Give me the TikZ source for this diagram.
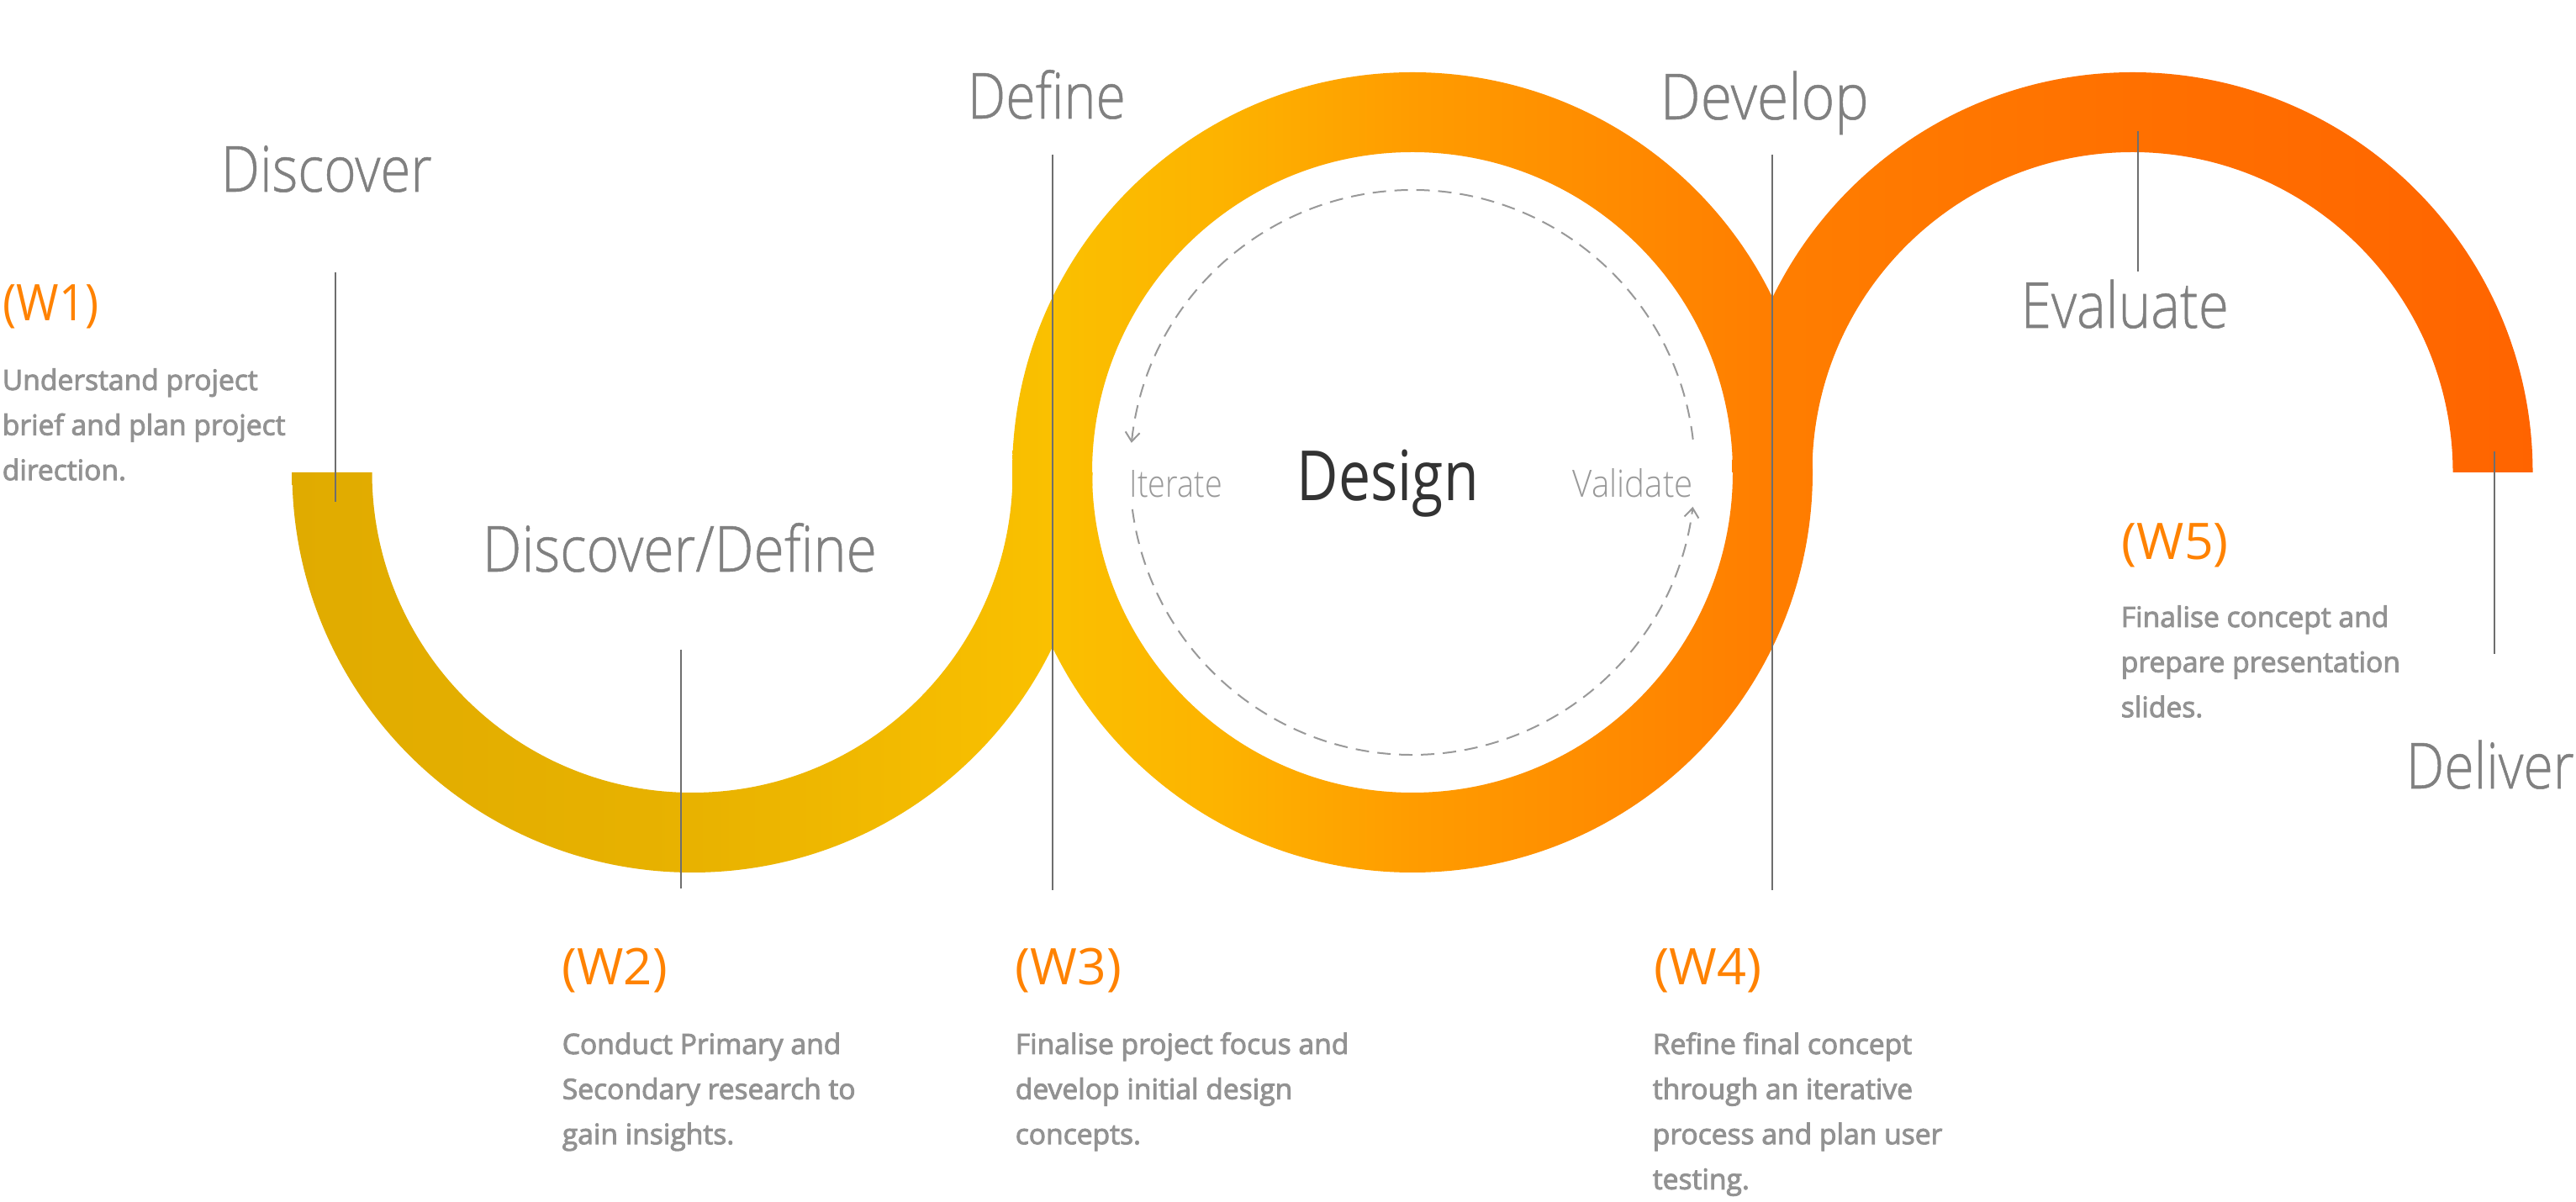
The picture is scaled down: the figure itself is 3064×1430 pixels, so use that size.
\documentclass[tikz,border=0pt]{standalone}
\usepackage{fontspec}
\usepackage{graphicx}
\usetikzlibrary{arrows.meta}
\IfFontExistsTF{Open Sans Light}{%
  \newfontfamily\lightfont{Open Sans Light}%
  \newfontfamily\phasefont{Open Sans Light}[FakeBold=0.7]}{%
  \newfontfamily\lightfont{Open Sans}%
  \newfontfamily\phasefont{Open Sans}}
\IfFontExistsTF{Open Sans SemiBold}{\newfontfamily\semifont{Open Sans SemiBold}}{\newfontfamily\semifont{Open Sans}[FakeBold=2.8]}
\newfontfamily\regfont{Open Sans}
\newdimen\pxunit \pxunit=0.25pt
\newcommand\fitpx[2]{\resizebox{#1\pxunit}{\height}{#2}}
\definecolor{g0}{HTML}{E0AB00}
\definecolor{g1}{HTML}{E8B200}
\definecolor{g2}{HTML}{FAC000}
\definecolor{g3}{HTML}{FDB300}
\definecolor{g4}{HTML}{FF9C00}
\definecolor{g5}{HTML}{FF7E00}
\definecolor{g6}{HTML}{FF7000}
\definecolor{g7}{HTML}{FF6400}
\definecolor{leadgray}{HTML}{6E6E6E}
\definecolor{labgray}{HTML}{808080}
\definecolor{bodygray}{HTML}{929292}
\definecolor{weekorange}{HTML}{FF8200}
\definecolor{loopgray}{HTML}{999999}
\definecolor{designdark}{HTML}{333333}
\pgfdeclarehorizontalshading{wave}{100bp}{color(0bp)=(g0); color(25bp)=(g0); color(33.96bp)=(g1); color(41.98bp)=(g2); color(45.71bp)=(g3); color(50bp)=(g4); color(57.84bp)=(g5); color(66.04bp)=(g6); color(75bp)=(g7); color(100bp)=(g7)}
\tikzset{
  leader/.style={draw=leadgray, line width=0.5pt},
  phase/.style={inner sep=0pt, anchor=base west, text=labgray, font=\phasefont\fontsize{18.9}{20}\selectfont},
  week/.style={inner sep=0pt, anchor=base west, text=weekorange, font=\regfont\fontsize{15}{16}\selectfont},
  body/.style={inner sep=0pt, anchor=base west, text=bodygray, font=\semifont\fontsize{8.4}{13.4}\selectfont},
  loopword/.style={inner sep=0pt, anchor=base west, text=loopgray, font=\lightfont\fontsize{11.2}{12}\selectfont},
  loopline/.style={draw=loopgray, line width=0.5pt, dash pattern=on 4pt off 2.5pt, -{Straight Barb[length=2.75pt,width=4.25pt]}},
}
\begin{document}
\begin{tikzpicture}[x=0.25pt, y=-0.25pt]
\useasboundingbox (0,0) rectangle (3064,1430);
\fill[white] (0,0) rectangle (3064,1430);
% centres
\coordinate (c1) at (823.5,562);
\coordinate (c2) at (1680,562);
\coordinate (c3) at (2536.5,562);
% band pieces
\begin{scope}
  \clip (1299.5,562) arc[start angle=0, end angle=180, radius=476] -- (442.5,562) arc[start angle=180, end angle=0, radius=381] -- cycle;
  \shade[shading=wave] (340,0) rectangle (3020,1430);
\end{scope}
\begin{scope}[even odd rule]
  \clip (c2) circle[radius=476] (c2) circle[radius=381];
  \shade[shading=wave] (340,0) rectangle (3020,1430);
\end{scope}
\begin{scope}
  \clip (2060.5,562) arc[start angle=180, end angle=360, radius=476] -- (2917.5,562) arc[start angle=0, end angle=-180, radius=381] -- cycle;
  \shade[shading=wave] (340,0) rectangle (3020,1430);
\end{scope}
% dashed loop
\draw[loopline] (c2) ++(-6.7:336) arc[start angle=-6.7, end angle=-174, radius=336];
\draw[loopline] (c2) ++(172.5:336) arc[start angle=172.5, end angle=7, radius=336];
% leader lines
\coordinate (l1a) at (399,324);  \coordinate (l1b) at (399,597);
\coordinate (l2a) at (810,773);  \coordinate (l2b) at (810,1057);
\coordinate (l3a) at (1252,184); \coordinate (l3b) at (1252,1059);
\coordinate (l4a) at (2108,184); \coordinate (l4b) at (2108,1059);
\coordinate (l5a) at (2543,156); \coordinate (l5b) at (2543,323);
\coordinate (l6a) at (2967,537); \coordinate (l6b) at (2967,778);
\draw[leader] (l1a) -- (l1b);
\draw[leader] (l2a) -- (l2b);
\draw[leader] (l3a) -- (l3b);
\draw[leader] (l4a) -- (l4b);
\draw[leader] (l5a) -- (l5b);
\draw[leader] (l6a) -- (l6b);
% phase labels
\node[phase] (discover) at (262,228) {\fitpx{251}{Discover}};
\node[phase] (discdef) at (573,680) {\fitpx{469}{Discover/Define}};
\node[phase] (define) at (1150,141) {\fitpx{188}{Define}};
\node[phase] (develop) at (1974,142) {\fitpx{248}{Develop}};
\node[phase] (evaluate) at (2403,390) {\fitpx{247}{Evaluate}};
\node[phase] (deliver) at (2861,938) {\fitpx{200}{Deliver}};
% centre
\node[inner sep=0pt, anchor=base west, text=designdark, font=\regfont\fontsize{20.6}{22}\selectfont] (design) at (1542,596) {\fitpx{216}{Design}};
\node[loopword] (iterate) at (1343,592) {\fitpx{110}{Iterate}};
\node[loopword] (validate) at (1870,592) {\fitpx{143}{Validate}};
% weeks
\node[week] (w1) at (3,382) {\fitpx{114}{(W1)}};
\node[week] (w2) at (668,1172) {\fitpx{125}{(W2)}};
\node[week] (w3) at (1207,1172) {\fitpx{126}{(W3)}};
\node[week] (w4) at (1967,1172) {\fitpx{128}{(W4)}};
\node[week] (w5) at (2523,666) {\fitpx{127}{(W5)}};
% bodies
\node[body] (b1) at (2,464) {\begin{tabular}[t]{@{}l@{}}Understand project\\brief and plan project\\direction.\end{tabular}};
\node[body] (b2) at (668,1254) {\begin{tabular}[t]{@{}l@{}}Conduct Primary and\\Secondary research to\\gain insights.\end{tabular}};
\node[body] (b3) at (1207,1254) {\begin{tabular}[t]{@{}l@{}}Finalise project focus and\\develop initial design\\concepts.\end{tabular}};
\node[body] (b4) at (1965,1254) {\begin{tabular}[t]{@{}l@{}}Refine final concept\\through an iterative\\process and plan user\\testing.\end{tabular}};
\node[body] (b5) at (2522,746) {\begin{tabular}[t]{@{}l@{}}Finalise concept and\\prepare presentation\\slides.\end{tabular}};
\end{tikzpicture}
\end{document}
